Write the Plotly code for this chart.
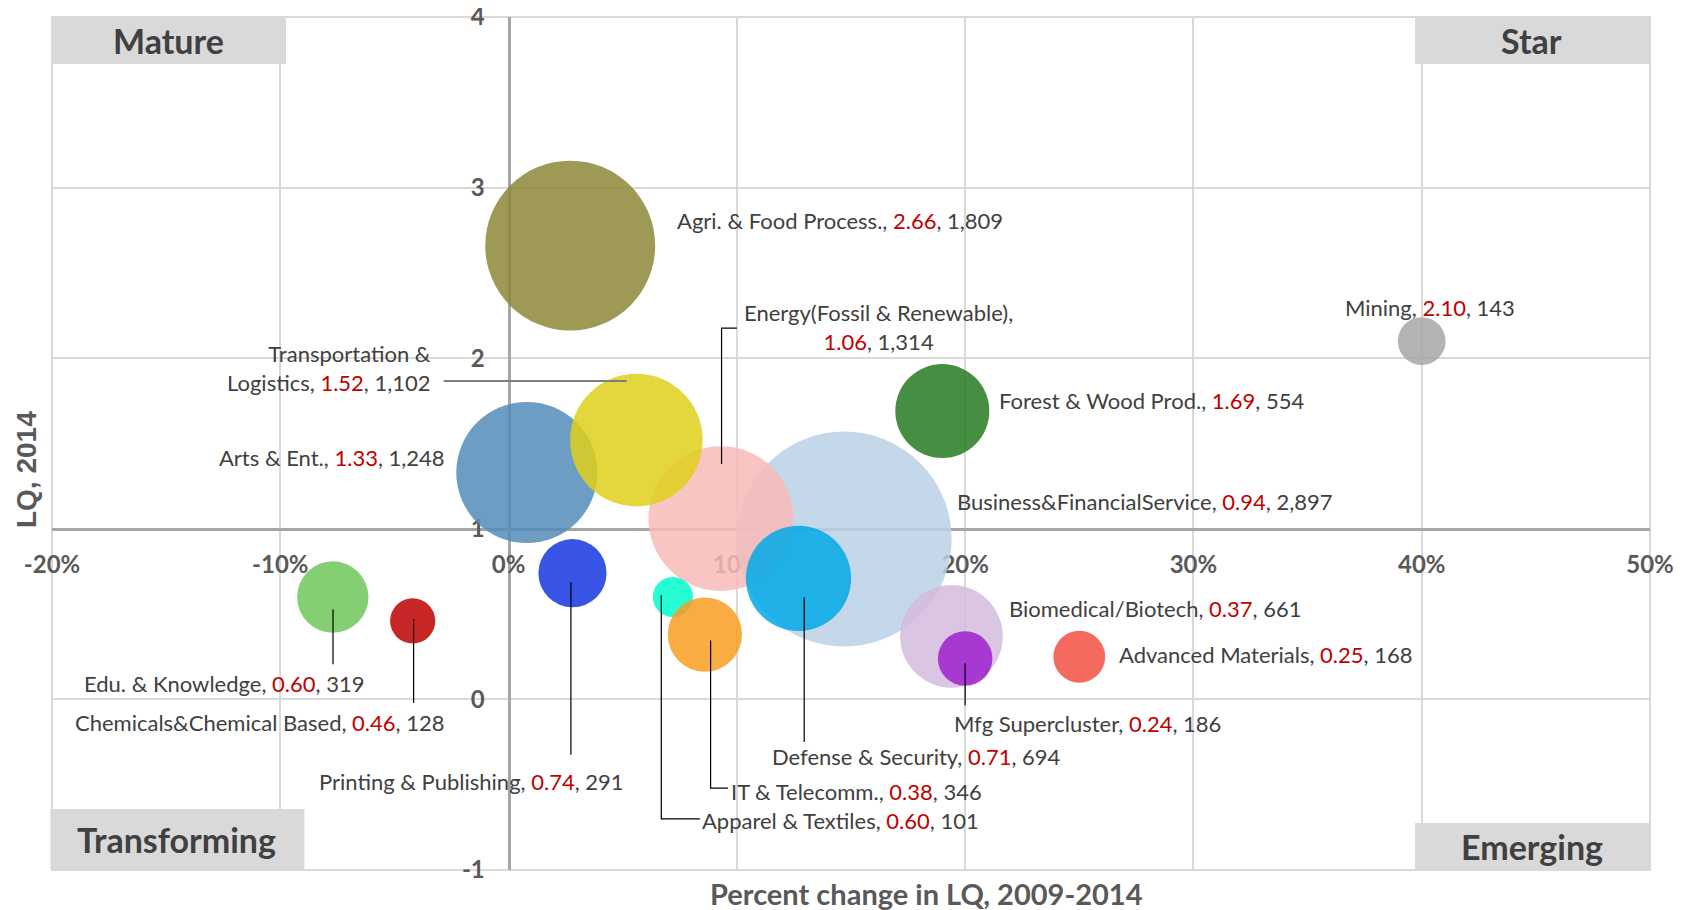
import plotly.graph_objects as go

# cluster data (drawing order = bottom to top)
clusters = ['Business&FinancialService', 'Biomedical/Biotech', 'Mfg Supercluster',
            'Energy(Fossil & Renewable)', 'Defense & Security', 'Agri. & Food Process.',
            'Arts & Ent.', 'Transportation & Logistics', 'Forest & Wood Prod.', 'Mining',
            'Edu. & Knowledge', 'Chemicals&Chemical Based', 'Printing & Publishing',
            'Apparel & Textiles', 'IT & Telecomm.', 'Advanced Materials']
pct_change = [14.7, 19.4, 20.0, 9.3, 12.7, 2.7, 0.8, 5.6, 19.0, 40.0,
              -7.7, -4.2, 2.8, 7.2, 8.6, 25.0]
lq_2014 = [0.94, 0.37, 0.24, 1.06, 0.71, 2.66, 1.33, 1.52, 1.69, 2.10,
           0.60, 0.46, 0.74, 0.60, 0.38, 0.25]
employment = [2897, 661, 186, 1314, 694, 1809, 1248, 1102, 554, 143,
              319, 128, 291, 101, 346, 168]
colors = ['#BBD1E6', '#D3BBDD', '#9E1FCE', '#F8BBB7', '#00A9E6', '#8D8837',
          '#558CBA', '#DFD01C', '#267A21', '#A6A6A6', '#6FC75C', '#BD0000',
          '#1436E0', '#01FDCC', '#F79E21', '#F35043']

x_ticks = [-20, -10, 0, 10, 20, 30, 40, 50]
y_ticks = [-1, 0, 1, 2, 3, 4]

RED = '#C00000'
TXT = '#404040'
LABEL_FONT = dict(family='Lato', size=22, color=TXT)

fig = go.Figure()

max_diam = 215
fig.add_trace(go.Scatter(
    x=pct_change, y=lq_2014, mode='markers',
    text=clusters,
    marker=dict(size=employment, sizemode='area',
                sizeref=2.0 * max(employment) / max_diam ** 2,
                color=colors, opacity=0.85, line=dict(width=0)),
    hovertemplate='%{text}<br>%{x:.1f}%, LQ %{y:.2f}<extra></extra>',
    showlegend=False,
))

# label placement: (x, y, xanchor, leader path) in data coords
label_pos = {
    'Agri. & Food Process.': (7.3, 2.81, 'left', None),
    'Mining': (40.35, 2.30, 'center', None),
    'Energy(Fossil & Renewable)': (16.2, 2.18, 'center', ([9.33, 9.33, 10.0], [1.38, 2.176, 2.176])),
    'Transportation & Logistics': (-3.3, 1.945, 'right', ([-2.84, 5.18], [1.866, 1.866])),
    'Arts & Ent.': (-2.7, 1.418, 'right', None),
    'Forest & Wood Prod.': (21.4, 1.753, 'left', None),
    'Business&FinancialService': (19.56, 1.159, 'left', None),
    'Biomedical/Biotech': (21.82, 0.534, 'left', None),
    'Advanced Materials': (26.63, 0.263, 'left', None),
    'Mfg Supercluster': (19.42, -0.141, 'left', ([20.0, 20.0], [0.212, -0.034])),
    'Defense & Security': (17.86, -0.337, 'center', ([12.95, 12.95], [0.597, -0.249])),
    'IT & Telecomm.': (9.66, -0.539, 'left', ([8.85, 8.85, 9.61], [0.345, -0.52, -0.52])),
    'Apparel & Textiles': (8.38, -0.71, 'left', ([6.69, 6.69, 8.38], [0.61, -0.70, -0.70])),
    'Printing & Publishing': (-1.61, -0.482, 'center', ([2.73, 2.73], [0.686, -0.324])),
    'Chemicals&Chemical Based': (-10.9, -0.135, 'center', ([-4.16, -4.16], [0.471, -0.021])),
    'Edu. & Knowledge': (-12.46, 0.092, 'center', ([-7.69, -7.69], [0.528, 0.206])),
}

for name, lq, emp in zip(clusters, lq_2014, employment):
    lx, ly, anchor, leader = label_pos[name]
    red = f"<span style='color:{RED}'>{lq:.2f}</span>"
    if name == 'Transportation & Logistics':
        txt = f"Transportation &<br>Logistics, {red}, {emp:,}"
    elif name == 'Energy(Fossil & Renewable)':
        txt = f"Energy(Fossil & Renewable),<br>{red}, {emp:,}"
    else:
        txt = f"{name}, {red}, {emp:,}"
    fig.add_annotation(x=lx, y=ly, xref='x', yref='y', text=txt, showarrow=False,
                       xanchor=anchor, yanchor='middle', align=anchor,
                       font=LABEL_FONT)
    if leader is not None:
        xs, ys = leader
        path = 'M ' + ' L '.join(f'{a},{b}' for a, b in zip(xs, ys))
        lc = '#7F7F7F' if name == 'Transportation & Logistics' else '#000000'
        lw = 2 if name == 'Transportation & Logistics' else 1.2
        fig.add_shape(type='path', path=path, xref='x', yref='y',
                      line=dict(color=lc, width=lw))

# plot border
fig.add_shape(type='rect', xref='paper', yref='paper', x0=0, y0=0, x1=1, y1=1,
              line=dict(color='#D9D9D9', width=2), layer='below')

# quadrant boxes
quadrants = [
    ('Mature', 0, 0.1464, 0.945, 1.0, 0.073, 0.9725),
    ('Star', 0.853, 1.0, 0.945, 1.0, 0.926, 0.9725),
    ('Transforming', -0.001, 0.158, 0.0, 0.0715, 0.0776, 0.036),
    ('Emerging', 0.853, 1.0, 0.0, 0.055, 0.926, 0.027),
]
for q, x0, x1, y0, y1, tx, ty in quadrants:
    fig.add_shape(type='rect', xref='paper', yref='paper', x0=x0, x1=x1, y0=y0, y1=y1,
                  fillcolor='#D9D9D9', line=dict(width=0), layer='above')
    fig.add_annotation(x=tx, y=ty, xref='paper', yref='paper', text=f'<b>{q}</b>',
                       showarrow=False, xanchor='center', yanchor='middle',
                       font=dict(family='Lato', size=34, color='#404040'))

# axis titles
fig.add_annotation(x=0.547, y=-0.027, xref='paper', yref='paper',
                   text='<b>Percent change in LQ, 2009-2014</b>', showarrow=False,
                   xanchor='center', yanchor='middle',
                   font=dict(family='Lato', size=29, color='#595959'))
fig.add_annotation(x=-0.0156, y=0.469, xref='paper', yref='paper',
                   text='<b>LQ, 2014</b>', showarrow=False, textangle=-90,
                   xanchor='center', yanchor='middle',
                   font=dict(family='Liberation Sans', size=28, color='#595959'))

tick_font = dict(family='Lato', size=24, color='#595959')
fig.update_layout(
    width=1680, height=902,
    margin=dict(l=44, r=38, t=9, b=40),
    plot_bgcolor='white', paper_bgcolor='white',
    xaxis=dict(range=[-20, 50], tickvals=x_ticks,
               ticktext=[f'<b>{v}%</b>' for v in x_ticks],
               showgrid=True, gridcolor='#D9D9D9', gridwidth=1.5, zeroline=False,
               showline=True, linecolor='#A6A6A6', linewidth=3,
               anchor='free', position=0.4, ticks='outside', ticklen=13,
               tickcolor='rgba(0,0,0,0)', tickfont=tick_font, layer='below traces',
               ticklabeloverflow='allow', automargin=False),
    yaxis=dict(range=[-1, 4], tickvals=y_ticks,
               ticktext=[f'<b>{v}</b>' for v in y_ticks],
               showgrid=True, gridcolor='#D9D9D9', gridwidth=1.5, zeroline=False,
               showline=True, linecolor='#A6A6A6', linewidth=3,
               anchor='free', position=20 / 70, ticks='outside', ticklen=18,
               tickcolor='rgba(0,0,0,0)', tickfont=tick_font, layer='below traces',
               ticklabeloverflow='allow', automargin=False),
)

fig.write_html("out.html")
